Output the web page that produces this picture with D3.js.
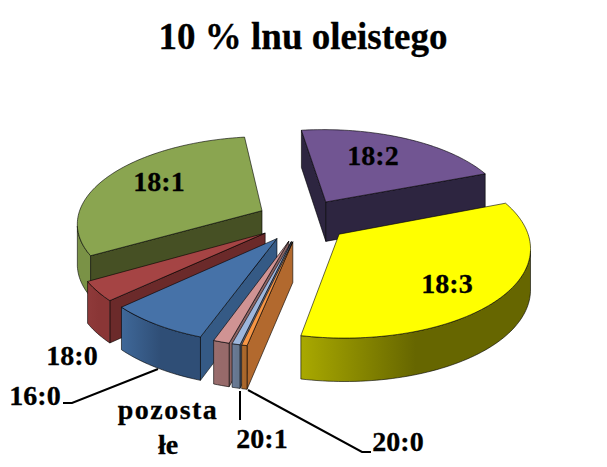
<!DOCTYPE html>
<html>
<head>
<meta charset="utf-8">
<script src="https://d3js.org/d3.v7.min.js"></script>
<style>
html, body { margin: 0; padding: 0; background: #fff; }
text { font-family: "Liberation Serif", serif; font-weight: bold; fill: #000; stroke: #000; stroke-width: 0.3px; }
</style>
</head>
<body>
<svg id="canvas"></svg>
<script>
// values, clockwise order of the pie
let categories = ["16:0", "18:0", "18:1", "18:2", "18:3", "20:0", "20:1", "pozostałe"];
let values = [7.6, 3.6, 31.2, 21.3, 34.1, 0.4, 0.6, 1.2];

var width = 607, height = 467;

let colors = {
    "16:0": {top: "#4672a8", cut: "#355a85", outer: ["#3f6899", "#2f4e76"]},
    "18:0": {top: "#a54444", cut: "#6b2a2a", outer: ["#8f3a3a", "#8a3636"]},
    "18:1": {top: "#8aa550", cut: "#465024", outer: ["#7a9246", "#7a9246"]},
    "18:2": {top: "#715592", cut: "#2d2540", outer: ["#3a2e52", "#2d2540"]},
    "18:3": {top: "#ffff00", cut: "#666600", outer: ["#a9a900", "#666600"]},
    "20:0": {top: "#f79646", cut: "#b2692e", outer: ["#b5702f", "#a9662b"]},
    "20:1": {top: "#9db6dc", cut: "#5c6c88", outer: ["#6c7d9c", "#66778f"]},
    "pozostałe": {top: "#d09393", cut: "#8c6464", outer: ["#9a6e6e", "#976a6a"]}
};

// projection of the pie plane, unit radius
var cx = 303, cy = 220, sx = 185, sy = 86.2, persp = 0.131, explode = 0.25, thick = 40;

function project(X, Y) {
    var w = 1 - persp * Y;
    return [cx + sx * X / w, cy + sy * Y / w];
}
function lower(X, Y) {
    var w = 1 - persp * Y;
    var p = project(X, Y);
    return [p[0], p[1] + thick / Math.sqrt(w)];
}

let svg = d3.select('#canvas').attr('width', width).attr('height', height);
let defs = svg.append('defs');
let line = d3.line();

var pie = d3.pie().sort(null)
    .startAngle(199.5 * Math.PI / 180)
    .endAngle((199.5 + 360) * Math.PI / 180);

let slices = pie(values).map(function(d, i) {
    var mid = (d.startAngle + d.endAngle) / 2;
    var ox = explode * Math.sin(mid), oy = -explode * Math.cos(mid);
    var n = Math.max(2, Math.ceil((d.endAngle - d.startAngle) * 40));
    var angles = d3.range(n + 1).map(function(j) {
        return d.startAngle + (d.endAngle - d.startAngle) * j / n;
    });
    var rim = angles.map(function(a) { return [ox + Math.sin(a), oy - Math.cos(a)]; });
    return {name: categories[i], mid: mid, apex: [ox, oy], rim: rim, angles: angles, i: i};
});

function up(p) { return project(p[0], p[1]); }
function down(p) { return lower(p[0], p[1]); }

// camera sits in the plane of the pie at this point
var camera = [0, 1 / persp];

function faces(p, nx, ny) {
    return nx * (camera[0] - p[0]) + ny * (camera[1] - p[1]) > 0;
}

// only the part of the rim that looks at the camera
function visibleRim(s) {
    return s.rim.filter(function(p, j) {
        return faces(p, Math.sin(s.angles[j]), -Math.cos(s.angles[j]));
    });
}

// back to front
let order = slices.slice().sort(function(a, b) {
    return (-Math.cos(a.mid)) - (-Math.cos(b.mid));
});

order.forEach(function(s) {
    var c = colors[s.name];
    var gid = 'outer' + s.i;
    var grad = defs.append('linearGradient').attr('id', gid);
    grad.append('stop').attr('offset', '0').attr('stop-color', c.outer[0]);
    grad.append('stop').attr('offset', '0.5').attr('stop-color', c.outer[1]);
    grad.append('stop').attr('offset', '1').attr('stop-color', c.outer[1]);

    var g = svg.append('g').attr('class', 'slice');
    var edge = 'rgba(0,0,0,0.75)';

    // straight cut faces
    var a0 = s.angles[0], a1 = s.angles[s.angles.length - 1];
    var r0 = s.rim[0], r1 = s.rim[s.rim.length - 1];
    if (faces(s.apex, -Math.cos(a0), -Math.sin(a0))) {
        g.append('path').attr('d', line([up(s.apex), up(r0), down(r0), down(s.apex)]) + 'Z')
            .attr('fill', c.cut).attr('stroke', edge).attr('stroke-width', 0.8);
    }
    if (faces(s.apex, Math.cos(a1), Math.sin(a1))) {
        g.append('path').attr('d', line([up(s.apex), up(r1), down(r1), down(s.apex)]) + 'Z')
            .attr('fill', c.cut).attr('stroke', edge).attr('stroke-width', 0.8);
    }

    // curved outer face
    var rim = visibleRim(s);
    if (rim.length > 1) {
        g.append('path').attr('d', line(rim.map(up).concat(rim.slice().reverse().map(down))) + 'Z')
            .attr('fill', 'url(#' + gid + ')').attr('stroke', edge).attr('stroke-width', 0.8);
    }

    // top
    g.append('path').attr('d', line([s.apex].concat(s.rim).map(up)) + 'Z').attr('fill', c.top)
        .attr('stroke', edge).attr('stroke-width', 0.8);
});

// leader lines
let leaders = [
    [[63, 403], [72, 403], [158, 369]],
    [[240, 391], [240, 420]],
    [[248, 390], [362, 452], [371, 452]]
];
svg.selectAll('.leader').data(leaders).enter().append('path')
    .attr('class', 'leader')
    .attr('d', function(d) { return line(d); })
    .attr('fill', 'none').attr('stroke', '#000').attr('stroke-width', 2);

// title + labels
svg.append('text').attr('x', 303).attr('y', 49).attr('text-anchor', 'middle')
    .style('font-size', '37px').text('10 % lnu oleistego');

let labelSpots = {
    "16:0": [[35, 405]],
    "18:0": [[72, 365]],
    "18:1": [[159, 191]],
    "18:2": [[373, 165]],
    "18:3": [[447, 293]],
    "20:0": [[398, 451]],
    "20:1": [[262, 448]],
    "pozostałe": [[168, 419], [168, 454]]
};
let labelText = {"pozostałe": ["pozosta", "łe"]};

categories.forEach(function(name) {
    var rows = labelText[name] || [name];
    rows.forEach(function(t, i) {
        svg.append('text')
            .attr('x', labelSpots[name][i][0]).attr('y', labelSpots[name][i][1])
            .attr('text-anchor', 'middle')
            .style('font-size', '28px')
            .style('letter-spacing', t === 'pozosta' ? '1.5px' : null)
            .text(t);
    });
});
</script>
</body>
</html>
